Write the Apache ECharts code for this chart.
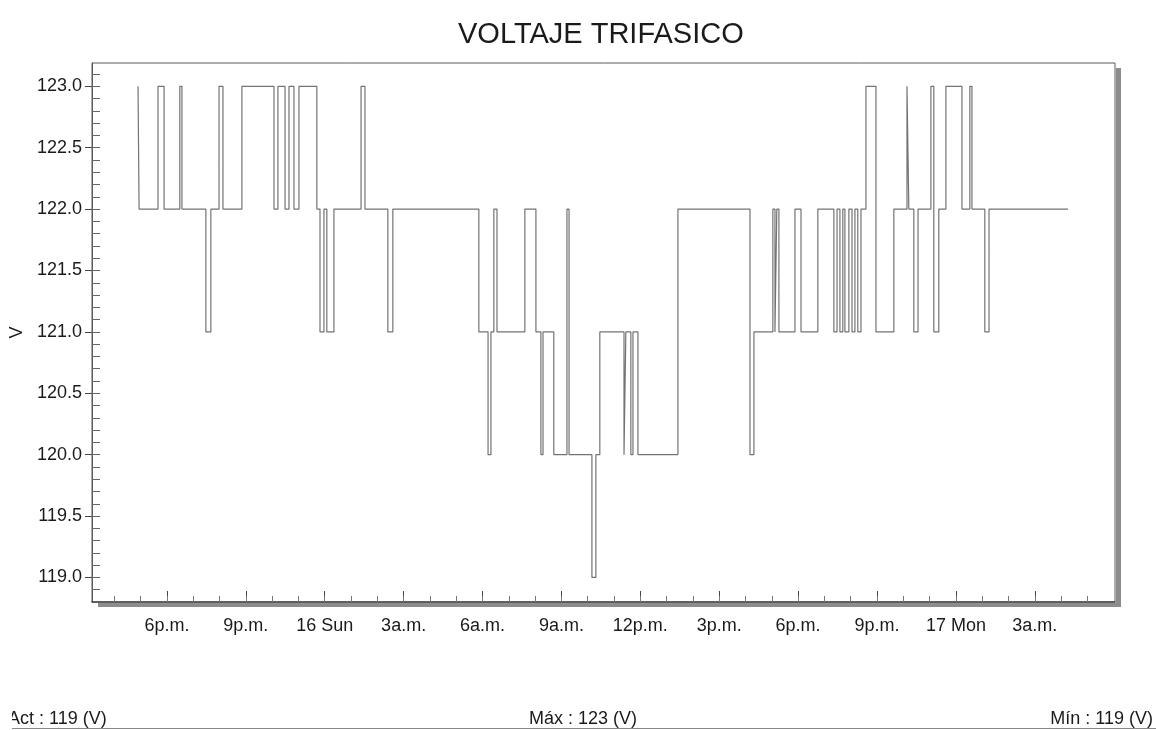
<!DOCTYPE html>
<html>
<head>
<meta charset="utf-8">
<title>VOLTAJE TRIFASICO</title>
<script src="https://cdn.jsdelivr.net/npm/echarts@6/dist/echarts.min.js"></script>
<style>
  html, body { margin: 0; padding: 0; background: #fff; }
  #chart { width: 1156px; height: 730px; }
</style>
</head>
<body>
<div id="chart"></div>
<script>
// horas desde las 00:00 del dia 15 (18 = 6p.m., 24 = 16 Sun, 48 = 17 Mon)
var times = [
  16.90, 16.94, 17.66, 17.89, 18.49, 18.57, 19.48, 19.67, 19.98, 20.13,
  20.85, 22.07, 22.22, 22.49, 22.64, 22.83, 23.02, 23.70, 23.82, 23.97,
  24.08, 24.35, 25.38, 25.53, 26.40, 26.59, 29.86, 30.21, 30.32, 30.43,
  30.55, 31.61, 32.03, 32.22, 32.30, 32.71, 33.21, 33.29, 34.16, 34.31,
  34.46, 35.38, 35.45, 35.64, 35.72, 35.91, 37.43, 40.17, 40.32, 41.04,
  41.12, 41.19, 41.27, 41.88, 42.11, 42.75, 43.36, 43.48, 43.59, 43.70,
  43.78, 43.93, 44.05, 44.16, 44.27, 44.39, 44.58, 44.96, 45.64, 46.14,
  46.21, 46.40, 46.56, 47.05, 47.16, 47.35, 47.62, 48.23, 48.53, 48.61,
  49.10, 49.26, 52.26
];
var volts = [
  123, 122, 123, 122, 123, 122, 121, 122, 123, 122,
  123, 122, 123, 122, 123, 122, 123, 122, 121, 122,
  121, 122, 123, 122, 121, 122, 121, 120, 121, 122,
  121, 122, 121, 120, 121, 120, 122, 120, 119, 120,
  121, 120, 121, 120, 121, 120, 122, 120, 121, 122,
  121, 122, 121, 122, 121, 122, 121, 122, 121, 122,
  121, 122, 121, 122, 121, 122, 123, 121, 122, 123,
  122, 121, 122, 123, 121, 122, 123, 122, 123, 122,
  121, 122, 122
];

var xTickHours = [18, 21, 24, 27, 30, 33, 36, 39, 42, 45, 48, 51];
var xTickLabels = ['6p.m.', '9p.m.', '16 Sun', '3a.m.', '6a.m.', '9a.m.',
  '12p.m.', '3p.m.', '6p.m.', '9p.m.', '17 Mon', '3a.m.'];
var yTickValues = [119, 119.5, 120, 120.5, 121, 121.5, 122, 122.5, 123];

var xMin = 15.15, xMax = 54.05;
var yMin = 118.8, yMax = 123.19;

// marcas menores: cada hora y cada 0.1 V
var xMinor = [];
for (var h = 16; h <= 53; h++) xMinor.push(h);
var yMinor = [];
for (var k = 1189; k <= 1231; k++) yMinor.push(k / 10);

var FONT = "'Liberation Sans', Arial, sans-serif";

var chart = echarts.init(document.getElementById('chart'));
chart.setOption({
  animation: false,
  backgroundColor: '#fff',
  title: {
    text: 'VOLTAJE TRIFASICO',
    left: 453,
    top: 15,
    textStyle: { fontFamily: FONT, fontSize: 29, fontWeight: 'normal', color: '#1a1a1a' }
  },
  grid: {
    left: 92, top: 63, right: 41, bottom: 128,
    outerBoundsMode: 'none',
    show: true,
    backgroundColor: '#fff',
    borderColor: '#5a5a5a',
    borderWidth: 1
  },
  xAxis: [
    {
      type: 'value', min: xMin, max: xMax,
      splitLine: { show: false },
      axisLine: { show: true, lineStyle: { color: '#444', width: 1.5 } },
      axisTick: { show: true, inside: true, length: 11, customValues: xTickHours,
        lineStyle: { color: '#444' } },
      axisLabel: {
        customValues: xTickHours, margin: 15,
        fontFamily: FONT, fontSize: 18, color: '#1a1a1a',
        formatter: function (v) { return xTickLabels[xTickHours.indexOf(v)] || ''; }
      }
    },
    {
      type: 'value', min: xMin, max: xMax, position: 'bottom',
      splitLine: { show: false },
      axisLine: { show: false },
      axisTick: { show: true, inside: true, length: 6, customValues: xMinor,
        lineStyle: { color: '#777' } },
      axisLabel: { show: false }
    }
  ],
  yAxis: [
    {
      type: 'value', min: yMin, max: yMax,
      name: 'V', nameLocation: 'middle', nameGap: 66, nameRotate: 90,
      nameTextStyle: { fontFamily: FONT, fontSize: 18, color: '#1a1a1a' },
      splitLine: { show: false },
      axisLine: { show: true, lineStyle: { color: '#5a5a5a' } },
      axisTick: { show: true, inside: false, length: 7, customValues: yTickValues,
        lineStyle: { color: '#444' } },
      axisLabel: {
        customValues: yTickValues, margin: 10,
        fontFamily: FONT, fontSize: 18, color: '#1a1a1a',
        formatter: function (v) { return v.toFixed(1); }
      }
    },
    {
      type: 'value', min: yMin, max: yMax, position: 'left',
      splitLine: { show: false },
      axisLine: { show: false },
      axisTick: { show: true, inside: true, length: 8, customValues: yMinor,
        lineStyle: { color: '#666' } },
      axisLabel: { show: false }
    }
  ],
  series: [
    {
      type: 'line',
      step: 'end',
      showSymbol: false,
      data: times.map(function (t, i) { return [t, volts[i]]; }),
      lineStyle: { color: '#737373', width: 1.2 }
    }
  ],
  graphic: [
    // sombra del marco (derecha y abajo)
    { type: 'rect', shape: { x: 1116, y: 68, width: 5, height: 539 }, style: { fill: '#8c8c8c' } },
    { type: 'rect', shape: { x: 98, y: 603, width: 1023, height: 4 }, style: { fill: '#8c8c8c' } },
    { type: 'text', style: { text: 'Act : 119 (V)', x: 8, y: 719, font: '18px ' + FONT,
      fill: '#1a1a1a', textAlign: 'left', textVerticalAlign: 'middle' } },
    { type: 'text', style: { text: 'Máx : 123 (V)', x: 583, y: 719, font: '18px ' + FONT,
      fill: '#1a1a1a', textAlign: 'center', textVerticalAlign: 'middle' } },
    { type: 'text', style: { text: 'Mín : 119 (V)', x: 1153, y: 719, font: '18px ' + FONT,
      fill: '#1a1a1a', textAlign: 'right', textVerticalAlign: 'middle' } },
    { type: 'rect', z: 100, shape: { x: 0, y: 700, width: 12, height: 30 }, style: { fill: '#fff' } },
    { type: 'line', shape: { x1: 12, y1: 728.5, x2: 1156, y2: 728.5 },
      style: { stroke: '#8a8a8a', lineWidth: 1 } }
  ]
});
</script>
</body>
</html>
